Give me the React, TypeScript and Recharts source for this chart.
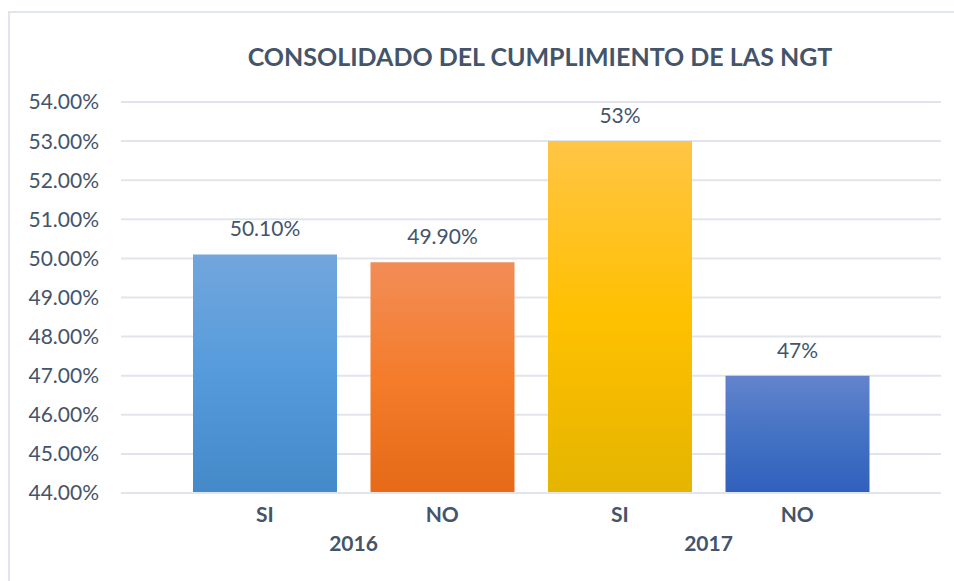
import { BarChart, Bar, XAxis, YAxis, CartesianGrid, Cell, LabelList } from "recharts";

const categories = ["SI", "NO", "SI", "NO"];
const years = ["2016", "", "2017", ""];
const values = [50.1, 49.9, 53, 47];
const valueLabels = ["50.10%", "49.90%", "53%", "47%"];
const yTicks = [44, 45, 46, 47, 48, 49, 50, 51, 52, 53, 54];

// gradient stops per bar: top, middle, bottom
const gradients = [
  ["#72A6DC", "#559BDC", "#4489C8"],
  ["#F28D57", "#F47C2B", "#E66A17"],
  ["#FFC545", "#FFC000", "#E4B500"],
  ["#6384CC", "#4472C4", "#2F60BC"],
];

const data = categories.map((c, i) => ({
  cat: c,
  year: years[i],
  value: values[i],
  text: valueLabels[i],
}));

const textColor = "#44546A";
const font = "Lato, 'Open Sans', sans-serif";

function CategoryTick({ x, y, payload, index }: any) {
  const year = years[index];
  const half = payload?.offset ?? 0;
  return (
    <g>
      <text x={x} y={y + 21} textAnchor="middle" fill={textColor} fontSize={21} fontWeight={700} fontFamily={font}>
        {payload.value}
      </text>
      {year && (
        <text x={x + half} y={y + 50} textAnchor="middle" fill={textColor} fontSize={21} fontWeight={700} fontFamily={font}>
          {year}
        </text>
      )}
    </g>
  );
}

export default function App() {
  return (
    <div style={{ position: "absolute", left: 0, top: 0, width: 954, height: 581, overflow: "hidden", background: "#fff" }}>
      <div
        style={{
          position: "absolute",
          left: 8,
          top: 11,
          width: 1000,
          height: 700,
          border: "2px solid #E1E6EC",
        }}
      />
      <div
        style={{
          position: "absolute",
          left: 0,
          top: 41,
          width: 1080,
          textAlign: "center",
          fontFamily: font,
          fontWeight: 700,
          fontSize: 25,
          color: textColor,
        }}
      >
        CONSOLIDADO DEL CUMPLIMIENTO DE LAS NGT
      </div>
      <div style={{ position: "absolute", left: 0, top: 0 }}>
        <BarChart width={954} height={581} data={data} margin={{ top: 102, right: 13, bottom: 0, left: 0 }}>
          <defs>
            {gradients.map((g, i) => (
              <linearGradient key={i} id={`bar${i}`} x1="0" y1="0" x2="0" y2="1">
                <stop offset="0%" stopColor={g[0]} />
                <stop offset="50%" stopColor={g[1]} />
                <stop offset="100%" stopColor={g[2]} />
              </linearGradient>
            ))}
          </defs>
          <CartesianGrid vertical={false} stroke="#E1E5EB" strokeWidth={2} />
          <XAxis
            dataKey="cat"
            axisLine={{ stroke: "#E1E5EB", strokeWidth: 2 }}
            tickLine={false}
            height={88}
            padding={{ left: 55, right: 55 }}
            interval={0}
            tick={<CategoryTick />}
          />
          <YAxis
            domain={[44, 54]}
            ticks={yTicks}
            axisLine={false}
            tickLine={false}
            tickSize={0}
            tickMargin={22}
            width={121}
            allowDataOverflow
            tickFormatter={(v: number) => v.toFixed(2) + "%"}
            tick={{ fill: textColor, fontSize: 21, fontFamily: font }}
          />
          <Bar dataKey="value" barSize={144} isAnimationActive={false}>
            {data.map((_, i) => (
              <Cell key={i} fill={`url(#bar${i})`} />
            ))}
            <LabelList dataKey="text" position="top" offset={18} fill={textColor} fontSize={21} fontFamily={font} />
          </Bar>
        </BarChart>
      </div>
    </div>
  );
}
